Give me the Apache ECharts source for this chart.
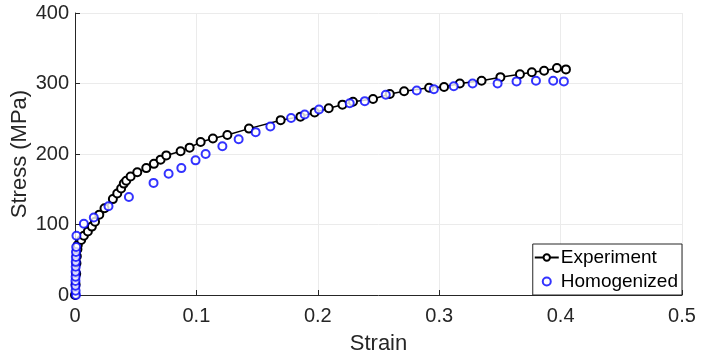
<!DOCTYPE html>
<html>
<head>
<meta charset="utf-8">
<script src="https://cdn.jsdelivr.net/npm/echarts@6/dist/echarts.min.js"></script>
<style>
  html, body { margin: 0; padding: 0; background: #fff; }
  #chart { width: 704px; height: 360px; }
</style>
</head>
<body>
<div id="chart"></div>
<script>
// experiment curve
const expStrain = [0, 0.0005, 0.001, 0.0012, 0.0015, 0.002, 0.0023, 0.0051, 0.0073, 0.0106, 0.0139, 0.0165, 0.02, 0.0243,
  0.0312, 0.0348, 0.038, 0.0402, 0.0422, 0.0458, 0.0513, 0.0587, 0.065, 0.0705, 0.0752, 0.087, 0.0944, 0.1035, 0.1136,
  0.1255, 0.1433, 0.1694, 0.1857, 0.1974, 0.209, 0.2203, 0.229, 0.2455, 0.2593, 0.2711, 0.2917, 0.304, 0.317, 0.3349,
  0.3504, 0.3665, 0.3763, 0.3864, 0.397, 0.4044]
const expStress = [0, 15, 30, 45, 55, 65, 71, 78, 84, 90, 97, 104, 114, 123,
  136, 144, 151, 158, 162, 168, 174, 180, 186, 192, 198, 204, 209, 217, 222,
  227, 236, 248, 253, 259, 265, 270, 274, 278, 285, 289, 294, 295, 300, 304,
  309, 313, 316, 318, 322, 320]

// homogenized model
const homStrain = [0.0008, 0.0005, 0.0004, 0.0004, 0.0005, 0.0005, 0.0006, 0.0006, 0.0007, 0.0008, 0.001, 0.0012,
  0.0073, 0.0155, 0.0276, 0.0444, 0.0647, 0.0771, 0.0876, 0.0993, 0.1076, 0.1214, 0.1348, 0.1488, 0.1609, 0.178,
  0.1892, 0.201, 0.2263, 0.2387, 0.256, 0.2815, 0.2956, 0.312, 0.3275, 0.3481, 0.3637, 0.3797, 0.3939, 0.4027]
const homStress = [0, 6, 13, 20, 26, 33, 40, 47, 54, 61, 68, 84,
  101, 110, 126, 139, 159, 172, 180, 191, 200, 211, 221, 231, 239, 251,
  256, 263, 272, 275, 284, 290, 292, 296, 300, 300, 303, 304, 304, 303]

const textColor = '#262626'
const fontFamily = 'Liberation Sans, Arial, sans-serif'

const chart = echarts.init(document.getElementById('chart'))

chart.setOption({
  animation: false,
  textStyle: { fontFamily: fontFamily },
  grid: { left: 75, right: 22, top: 13, bottom: 65 },
  legend: {
    right: 22,
    bottom: 65,
    orient: 'vertical',
    backgroundColor: '#fff',
    borderColor: '#262626',
    borderWidth: 1,
    borderRadius: 0,
    padding: [4, 4, 4, 1],
    itemGap: 5,
    itemWidth: 24,
    itemHeight: 8,
    textStyle: { fontSize: 19, color: '#000', fontFamily: fontFamily, padding: [0, 0, 0, -3] },
    data: ['Experiment', 'Homogenized']
  },
  xAxis: {
    type: 'value',
    min: 0,
    max: 0.5,
    interval: 0.1,
    name: 'Strain',
    nameLocation: 'middle',
    nameGap: 38,
    nameTextStyle: { fontSize: 22, color: textColor },
    axisLine: { show: true, onZero: false, lineStyle: { color: textColor, width: 1 } },
    axisTick: { show: true, inside: true, length: 5, lineStyle: { color: textColor } },
    axisLabel: { fontSize: 20, color: textColor, margin: 11,
      formatter: v => (v === 0 ? '0' : String(Number(v.toFixed(1)))) },
    splitLine: { show: true, lineStyle: { color: '#ebebeb', width: 1 } }
  },
  yAxis: {
    type: 'value',
    min: 0,
    max: 400,
    interval: 100,
    name: 'Stress (MPa)',
    nameLocation: 'middle',
    nameGap: 44,
    nameMoveOverlap: false,
    nameTextStyle: { fontSize: 22, color: textColor },
    axisLine: { show: true, onZero: false, lineStyle: { color: textColor, width: 1 } },
    axisTick: { show: true, inside: true, length: 5, lineStyle: { color: textColor } },
    axisLabel: { fontSize: 20, color: textColor, margin: 6 },
    splitLine: { show: true, lineStyle: { color: '#ebebeb', width: 1 } }
  },
  series: [
    {
      name: 'Experiment',
      type: 'line',
      data: expStrain.map((x, i) => [x, expStress[i]]),
      symbol: 'emptyCircle',
      symbolSize: 8,
      showAllSymbol: true,
      lineStyle: { color: '#000', width: 1.5 },
      itemStyle: { color: '#000', borderColor: '#000', borderWidth: 1.5 },
      z: 2
    },
    {
      name: 'Homogenized',
      type: 'scatter',
      data: homStrain.map((x, i) => [x, homStress[i]]),
      symbol: 'emptyCircle',
      symbolSize: 8,
      itemStyle: { color: '#0000ff', borderColor: '#0000ff', borderWidth: 2 },
      z: 3
    }
  ]
})
</script>
</body>
</html>
